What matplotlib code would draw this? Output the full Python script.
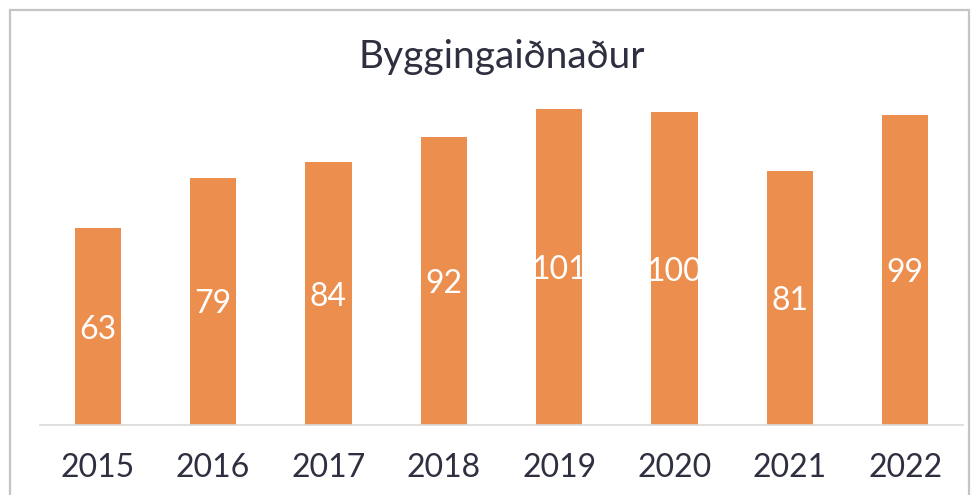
import matplotlib.pyplot as plt
from matplotlib.patches import Rectangle

years = ['2015', '2016', '2017', '2018', '2019', '2020', '2021', '2022']
values = [63, 79, 84, 92, 101, 100, 81, 99]

bar_color = '#EC8E4D'
text_color = '#2E3040'

plt.rcParams['font.family'] = ['Lato', 'DejaVu Sans']

fig = plt.figure(figsize=(9.73, 4.95), dpi=100)
ax = fig.add_axes([40 / 973, 70 / 495, 923 / 973, (425 - 80) / 495])

x = range(len(years))
bars = ax.bar(x, values, width=0.4, color=bar_color, zorder=2)
ax.set_xlim(-0.5, len(years) - 0.5)
ax.set_ylim(0, 345 / 3.13)

for rect, v in zip(bars, values):
    ax.text(rect.get_x() + rect.get_width() / 2, v / 2 - 1, str(v),
            ha='center', va='center', color='white', fontsize=23)

ax.set_xticks(list(x))
ax.set_xticklabels(years, fontsize=23, color=text_color)
ax.tick_params(axis='x', length=0, pad=20)
ax.set_yticks([])
for side in ['top', 'right', 'left']:
    ax.spines[side].set_visible(False)
ax.spines['bottom'].set_color('#D9D9D9')
ax.spines['bottom'].set_linewidth(1.2)

fig.text(502 / 973, (495 - 57) / 495, 'Byggingaiðnaður', ha='center', va='center',
         fontsize=28, color=text_color)

fig.patches.append(Rectangle((10 / 973, -0.02), 959 / 973, (485 / 495) + 0.02,
                             transform=fig.transFigure, fill=False,
                             edgecolor='#C4C4C4', linewidth=1.6))

fig.savefig('out.png', dpi=100)
